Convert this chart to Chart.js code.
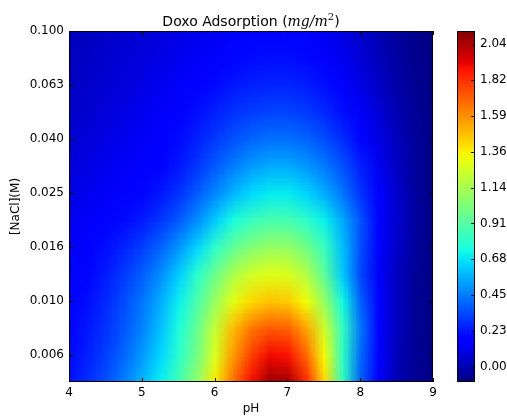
<!DOCTYPE html>
<html>
<head>
<meta charset="utf-8">
<script src="https://cdn.jsdelivr.net/npm/chart.js@4.4.0/dist/chart.umd.min.js"></script>
<style>
  html, body { margin: 0; padding: 0; background: #fff; }
  canvas { display: block; }
</style>
</head>
<body>
<canvas id="chart_doxo" width="507" height="417"></canvas>
<script>
// grid: columns are pH, rows are [NaCl] (bottom to top)
var phValues = [4.0, 4.25, 4.5, 4.75, 5.0, 5.25, 5.5, 5.75, 6.0, 6.25, 6.5, 6.75, 7.0, 7.25, 7.5, 7.75, 8.0, 8.25, 8.5, 8.75, 9.0]
var naclValues = [0.005, 0.0063, 0.0079, 0.01, 0.0126, 0.0158, 0.02, 0.0251, 0.0316, 0.0398, 0.05, 0.0631, 0.0794, 0.1]

var adsorption = [
  [0.22, 0.28, 0.36, 0.46, 0.58, 0.71, 0.87, 1.08, 1.38, 1.67, 1.90, 2.08, 2.06, 1.84, 1.42, 0.82, 0.38, 0.14, 0.00, -0.06, -0.085],
  [0.20, 0.25, 0.32, 0.41, 0.52, 0.65, 0.80, 1.00, 1.28, 1.57, 1.78, 1.91, 1.89, 1.69, 1.33, 0.81, 0.41, 0.16, 0.015, -0.055, -0.085],
  [0.185, 0.23, 0.29, 0.37, 0.47, 0.60, 0.76, 0.96, 1.22, 1.49, 1.65, 1.72, 1.70, 1.54, 1.23, 0.82, 0.44, 0.18, 0.025, -0.05, -0.085],
  [0.17, 0.21, 0.27, 0.35, 0.44, 0.56, 0.71, 0.89, 1.10, 1.30, 1.42, 1.47, 1.45, 1.33, 1.08, 0.73, 0.39, 0.16, 0.03, -0.05, -0.085],
  [0.155, 0.19, 0.24, 0.31, 0.39, 0.49, 0.63, 0.80, 0.98, 1.15, 1.25, 1.29, 1.27, 1.16, 0.93, 0.62, 0.33, 0.14, 0.025, -0.05, -0.085],
  [0.14, 0.17, 0.21, 0.26, 0.32, 0.40, 0.51, 0.65, 0.81, 0.95, 1.04, 1.09, 1.08, 0.99, 0.83, 0.60, 0.35, 0.16, 0.045, -0.04, -0.085],
  [0.12, 0.145, 0.17, 0.20, 0.24, 0.30, 0.38, 0.49, 0.63, 0.75, 0.84, 0.88, 0.87, 0.81, 0.71, 0.55, 0.36, 0.18, 0.06, -0.03, -0.085],
  [0.10, 0.12, 0.14, 0.165, 0.19, 0.23, 0.29, 0.38, 0.48, 0.58, 0.66, 0.70, 0.70, 0.65, 0.56, 0.44, 0.29, 0.15, 0.05, -0.04, -0.085],
  [0.08, 0.10, 0.12, 0.14, 0.16, 0.185, 0.23, 0.30, 0.38, 0.46, 0.52, 0.555, 0.555, 0.515, 0.45, 0.36, 0.25, 0.125, 0.035, -0.045, -0.085],
  [0.06, 0.08, 0.10, 0.12, 0.14, 0.165, 0.20, 0.25, 0.31, 0.36, 0.405, 0.43, 0.43, 0.40, 0.35, 0.28, 0.19, 0.095, 0.02, -0.045, -0.085],
  [0.045, 0.06, 0.08, 0.10, 0.12, 0.145, 0.175, 0.21, 0.25, 0.29, 0.315, 0.33, 0.33, 0.31, 0.27, 0.21, 0.14, 0.07, 0.0, -0.05, -0.085],
  [0.035, 0.05, 0.065, 0.08, 0.10, 0.12, 0.145, 0.17, 0.20, 0.23, 0.25, 0.26, 0.26, 0.245, 0.21, 0.16, 0.10, 0.04, -0.02, -0.06, -0.085],
  [0.03, 0.04, 0.055, 0.07, 0.085, 0.10, 0.12, 0.14, 0.165, 0.19, 0.205, 0.21, 0.21, 0.195, 0.165, 0.12, 0.07, 0.02, -0.03, -0.065, -0.085],
  [0.025, 0.035, 0.045, 0.06, 0.07, 0.085, 0.10, 0.115, 0.135, 0.155, 0.165, 0.17, 0.17, 0.155, 0.13, 0.09, 0.05, 0.005, -0.04, -0.07, -0.09]
]

var phTicks = [4, 5, 6, 7, 8, 9]
var naclTicks = [0.1, 0.0631, 0.0398, 0.0251, 0.0158, 0.01, 0.00631]
var naclTickLabels = ['0.100', '0.063', '0.040', '0.025', '0.016', '0.010', '0.006']
var cbTicks = [0, 0.227, 0.454, 0.682, 0.909, 1.136, 1.363, 1.591, 1.818, 2.045]
var cbTickLabels = ['0.00', '0.23', '0.45', '0.68', '0.91', '1.14', '1.36', '1.59', '1.82', '2.04']
var vmin = -0.095, vmax = 2.127

// matplotlib jet
var jetSeg = {
  r: [[0, 0], [0.35, 0], [0.66, 1], [0.89, 1], [1, 0.5]],
  g: [[0, 0], [0.125, 0], [0.375, 1], [0.64, 1], [0.91, 0], [1, 0]],
  b: [[0, 0.5], [0.11, 1], [0.34, 1], [0.65, 0], [1, 0]]
}
var jetStops = [0, 0.11, 0.125, 0.34, 0.35, 0.375, 0.64, 0.65, 0.66, 0.89, 0.91, 1]

function channel(seg, t) {
  for (var k = 1; k < seg.length; k++) {
    if (t <= seg[k][0]) {
      var a = seg[k - 1], b = seg[k]
      return a[1] + (b[1] - a[1]) * (t - a[0]) / (b[0] - a[0])
    }
  }
  return seg[seg.length - 1][1]
}
function jet(t) {
  t = Math.max(0, Math.min(1, t))
  return [channel(jetSeg.r, t) * 255, channel(jetSeg.g, t) * 255, channel(jetSeg.b, t) * 255]
}
function jetCss(t) {
  var c = jet(t)
  return 'rgb(' + Math.round(c[0]) + ',' + Math.round(c[1]) + ',' + Math.round(c[2]) + ')'
}

var heatmapPlugin = {
  id: 'heatmap',
  beforeDatasetsDraw: function (chart) {
    var ctx = chart.ctx, xs = chart.scales.x, ys = chart.scales.y, area = chart.chartArea
    var cols = phValues.length, rows = naclValues.length
    var off = document.createElement('canvas')
    off.width = cols
    off.height = rows
    var octx = off.getContext('2d')
    var img = octx.createImageData(cols, rows)
    chart.data.datasets[0].data.forEach(function (pt) {
      var i = naclValues.indexOf(pt.y), j = phValues.indexOf(pt.x)
      var c = jet((pt.v - vmin) / (vmax - vmin))
      var idx = ((rows - 1 - i) * cols + j) * 4
      img.data[idx] = c[0]; img.data[idx + 1] = c[1]; img.data[idx + 2] = c[2]; img.data[idx + 3] = 255
    })
    octx.putImageData(img, 0, 0)

    var dx = (phValues[1] - phValues[0]) / 2
    var ratio = Math.pow(naclValues[rows - 1] / naclValues[0], 0.5 / (rows - 1))
    var left = xs.getPixelForValue(phValues[0] - dx)
    var right = xs.getPixelForValue(phValues[cols - 1] + dx)
    var top = ys.getPixelForValue(naclValues[rows - 1] * ratio)
    var bottom = ys.getPixelForValue(naclValues[0] / ratio)

    ctx.save()
    ctx.beginPath()
    ctx.rect(area.left, area.top, area.right - area.left, area.bottom - area.top)
    ctx.clip()
    ctx.imageSmoothingEnabled = true
    ctx.drawImage(off, left, top, right - left, bottom - top)
    ctx.restore()
  },
  afterDraw: function (chart) {
    var ctx = chart.ctx, area = chart.chartArea
    var xs = chart.scales.x, ys = chart.scales.y, cb = chart.scales.cb
    var L = Math.round(area.left), R = Math.round(area.right), T = Math.round(area.top), B = Math.round(area.bottom)
    ctx.save()
    ctx.strokeStyle = '#000'
    ctx.lineWidth = 1

    // inward ticks on all four sides
    ctx.beginPath()
    phTicks.forEach(function (v) {
      var px = Math.round(xs.getPixelForValue(v)) + 0.5
      ctx.moveTo(px, B); ctx.lineTo(px, B - 4)
      ctx.moveTo(px, T); ctx.lineTo(px, T + 4)
    })
    naclTicks.forEach(function (v) {
      var py = Math.round(ys.getPixelForValue(v)) + 0.5
      ctx.moveTo(L, py); ctx.lineTo(L + 4, py)
      ctx.moveTo(R, py); ctx.lineTo(R - 4, py)
    })
    ctx.stroke()
    ctx.strokeRect(L + 0.5, T + 0.5, R - L - 1, B - T - 1)

    // colorbar
    var cbTop = cb.getPixelForValue(vmax), cbBottom = cb.getPixelForValue(vmin)
    var cbL = R + 24, cbW = 18
    var grad = ctx.createLinearGradient(0, cbBottom, 0, cbTop)
    jetStops.forEach(function (t) { grad.addColorStop(t, jetCss(t)) })
    ctx.fillStyle = grad
    ctx.fillRect(cbL, cbTop, cbW, cbBottom - cbTop)
    ctx.beginPath()
    cbTicks.forEach(function (v) {
      var py = Math.round(cb.getPixelForValue(v)) + 0.5
      ctx.moveTo(cbL + cbW, py); ctx.lineTo(cbL + cbW - 4, py)
    })
    ctx.stroke()
    ctx.strokeRect(cbL + 0.5, Math.round(cbTop) + 0.5, cbW - 1, Math.round(cbBottom - cbTop) - 1)

    // title with math part
    var parts = [
      { text: 'Doxo Adsorption (', font: "14px 'DejaVu Sans'", dy: 0 },
      { text: 'mg/m', font: "italic 14px 'DejaVu Serif'", dy: 0 },
      { text: '2', font: "10px 'DejaVu Serif'", dy: -6 },
      { text: ')', font: "14px 'DejaVu Sans'", dy: 0 }
    ]
    var total = 0
    parts.forEach(function (p) { ctx.font = p.font; p.w = ctx.measureText(p.text).width; total += p.w })
    var x = (area.left + area.right) / 2 - total / 2
    ctx.fillStyle = '#000'
    ctx.textBaseline = 'alphabetic'
    ctx.textAlign = 'left'
    parts.forEach(function (p) {
      ctx.font = p.font
      ctx.fillText(p.text, x, 26 + p.dy)
      x += p.w
    })
    ctx.restore()
  }
}

Chart.defaults.font.family = "'DejaVu Sans', sans-serif"
Chart.defaults.font.size = 12
Chart.defaults.color = '#000'

var cells = []
naclValues.forEach(function (s, i) {
  phValues.forEach(function (p, j) {
    cells.push({ x: p, y: s, v: adsorption[i][j] })
  })
})

var ctx = document.getElementById('chart_doxo')

var chart_doxo = new Chart(ctx, {
  type: 'scatter',
  data: {
    datasets: [{ data: cells, pointRadius: 0, pointHoverRadius: 0 }]
  },
  options: {
    responsive: false,
    animation: false,
    events: [],
    layout: { padding: { top: 31, left: 0, right: 0, bottom: 0 } },
    plugins: { legend: { display: false }, tooltip: { enabled: false } },
    scales: {
      x: {
        type: 'linear', min: 4, max: 9,
        grid: { display: false, drawTicks: false }, border: { display: false },
        afterBuildTicks: function (s) { s.ticks = phTicks.map(function (v) { return { value: v } }) },
        ticks: { padding: 4, maxRotation: 0, autoSkip: false, callback: function (v) { return String(v) } },
        title: { display: true, text: 'pH', padding: { top: 0, bottom: 1 } },
        afterFit: function (s) { s.height = 35 }
      },
      y: {
        type: 'logarithmic', min: 0.005, max: 0.1,
        grid: { display: false, drawTicks: false }, border: { display: false },
        afterBuildTicks: function (s) { s.ticks = naclTicks.map(function (v) { return { value: v } }) },
        ticks: { padding: 5, autoSkip: false, callback: function (v, i) { return naclTickLabels[i] } },
        title: { display: true, text: '[NaCl](M)', padding: { top: 9, bottom: 0 } },
        afterFit: function (s) { s.width = 69; s.paddingTop = 0; s.paddingBottom = 0 }
      },
      cb: {
        type: 'linear', position: 'right', min: vmin, max: vmax,
        grid: { display: false, drawTicks: false }, border: { display: false },
        afterBuildTicks: function (s) { s.ticks = cbTicks.map(function (v) { return { value: v } }) },
        ticks: { padding: 47, autoSkip: false, callback: function (v, i) { return cbTickLabels[i] } },
        afterFit: function (s) { s.width = 74; s.paddingTop = 0; s.paddingBottom = 0 }
      }
    }
  },
  plugins: [heatmapPlugin]
})
</script>
</body>
</html>
